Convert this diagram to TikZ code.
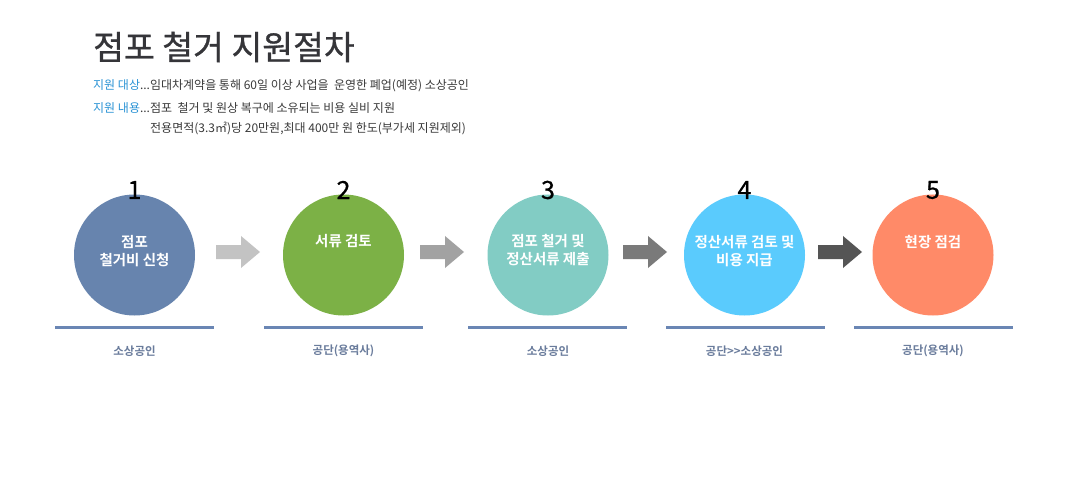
\documentclass[tikz,border=0pt]{standalone}
\usepackage{fontspec}
\newfontfamily\kr{Noto Sans CJK KR}
\newfontfamily\krt[FakeBold=0.8]{Noto Sans CJK KR}
\newfontfamily\krb{Noto Sans CJK KR Bold}
\definecolor{cA}{HTML}{6784AE}
\definecolor{cB}{HTML}{7CB146}
\definecolor{cC}{HTML}{82CCC4}
\definecolor{cD}{HTML}{5ACBFD}
\definecolor{cE}{HTML}{FF8A68}
\definecolor{lineC}{HTML}{6A86B4}
\definecolor{lblC}{HTML}{6A7C9C}
\definecolor{titleC}{HTML}{353539}
\definecolor{blueT}{HTML}{2A93D5}
\definecolor{subT}{HTML}{3A3A3A}
\definecolor{a1}{HTML}{C3C3C3}
\definecolor{a2}{HTML}{A2A2A2}
\definecolor{a3}{HTML}{7A7A7A}
\definecolor{a4}{HTML}{555555}
\tikzset{
  stepcirc/.style={circle,minimum size=121pt,inner sep=0pt,draw=none},
  circtext/.style={text=white,font=\krb\fontsize{14.5}{18}\selectfont,align=center},
  numtext/.style={font=\krt\fontsize{25}{25}\selectfont,text=black},
  baseline/.style={line width=3pt,draw=lineC},
  lbl/.style={font=\krb\fontsize{11.5}{13}\selectfont,text=lblC},
  subline/.style={font=\kr\fontsize{12}{14}\selectfont,text=subT,anchor=west,inner sep=0pt},
  arrowfill/.style={draw=none}
}
% block arrow: #1 = start coordinate (left, mid height)
\newcommand{\blockarrowat}[3]{%
  \coordinate (#2) at (#1,252);
  \fill[#3] (#2) ++(0,-7) -- ++(25,0) -- ++(0,-9) -- ++(19,16) -- ++(-19,16) -- ++(0,-9) -- ++(-25,0) -- cycle;
}
\begin{document}
\begin{tikzpicture}[x=1pt,y=-1pt]
\useasboundingbox[fill=white] (0,0) rectangle (1080,500);
% title
\node[anchor=west,inner sep=0pt,font=\krt\fontsize{33.5}{34}\selectfont,text=titleC] (title) at (93,47) {점포 철거 지원절차};
\node[subline] (s1) at (93,86) {\textcolor{blueT}{지원 대상}...임대차계약을 통해 60일 이상 사업을~ 운영한 폐업(예정) 소상공인};
\node[subline] (s2) at (93,108) {\textcolor{blueT}{지원 내용}...점포~ 철거 및 원상 복구에 소유되는 비용 실비 지원};
\node[subline] (s3) at (150,128) {전용면적(3.3㎡)당 20만원,최대 400만 원 한도(부가세 지원제외)};
% circles
\foreach \n/\x/\c in {1/134.5/cA,2/343.5/cB,3/548/cC,4/744.5/cD,5/933/cE}{
  \node[stepcirc,fill=\c] (c\n) at (\x,255) {};
  \node[numtext] (n\n) at (\x,190) {\n};
}
\node[circtext] (t1) at (134.5,251) {점포\\철거비 신청};
\node[circtext] (t2) at (343.5,241) {서류 검토};
\node[circtext] (t3) at (548,250) {점포 철거 및\\정산서류 제출};
\node[circtext] (t4) at (744.5,251) {정산서류 검토 및\\비용 지급};
\node[circtext] (t5) at (933,242) {현장 점검};
% arrows
\blockarrowat{216}{ar1}{a1}
\blockarrowat{420}{ar2}{a2}
\blockarrowat{623}{ar3}{a3}
\blockarrowat{818}{ar4}{a4}
% base lines
\foreach \n/\a/\b in {1/55/214,2/264/423,3/468/627,4/666/825,5/854/1013}{
  \coordinate (l\n a) at (\a,327);
  \coordinate (l\n b) at (\b,327);
  \draw[baseline] (l\n a) -- (l\n b);
}
\node[lbl] (b1) at (134.5,351) {소상공인};
\node[lbl] (b2) at (343.5,351) {공단(용역사)};
\node[lbl] (b3) at (548,351) {소상공인};
\node[lbl] (b4) at (744.5,351) {공단>>소상공인};
\node[lbl] (b5) at (933,351) {공단(용역사)};
\end{tikzpicture}
\end{document}
